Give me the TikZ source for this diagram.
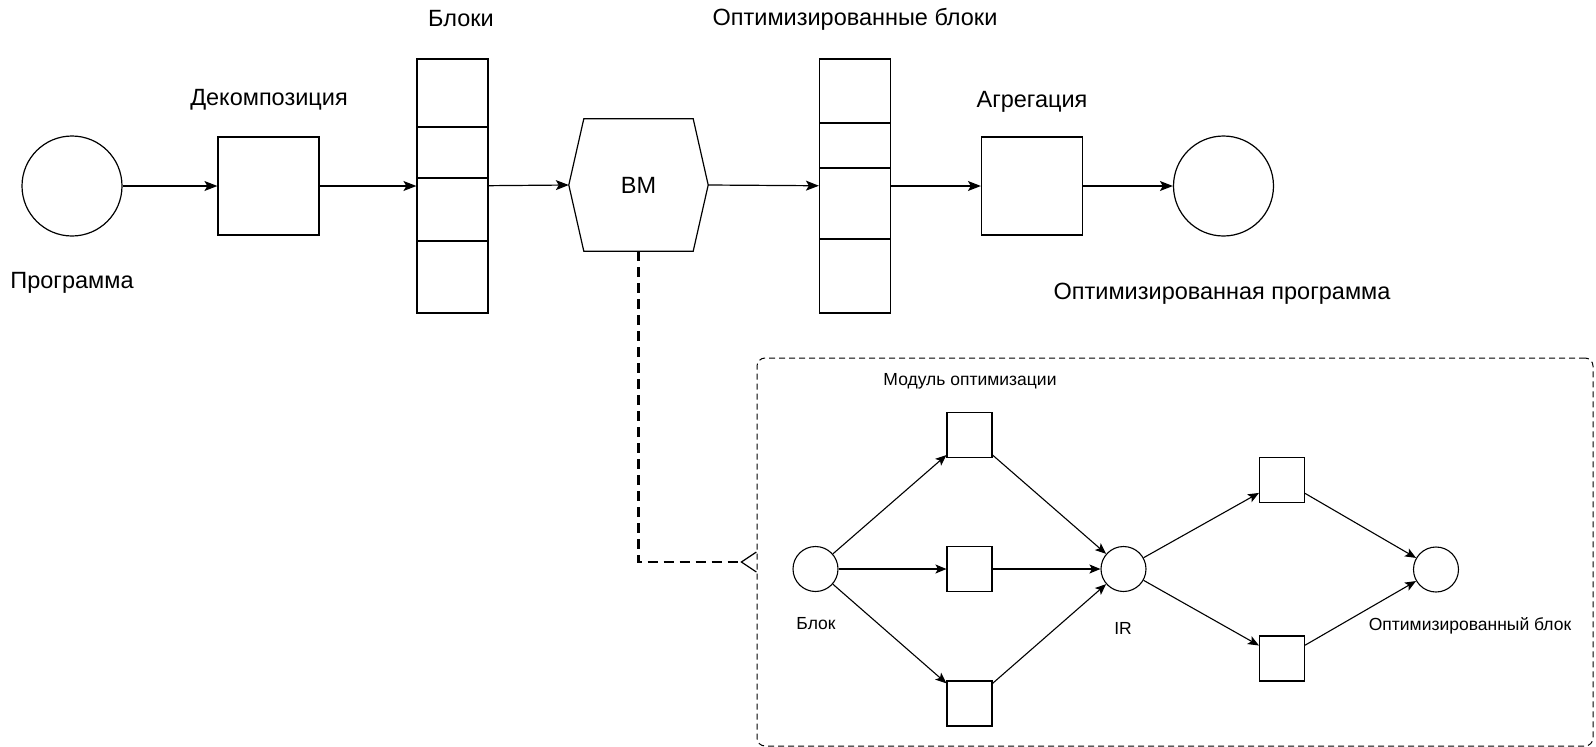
\documentclass[tikz,border=0pt]{standalone}
\usepackage{fontspec}
\setmainfont{Liberation Sans}
\usetikzlibrary{arrows.meta}

\begin{document}
\begin{tikzpicture}[x=1pt, y=-1pt,
  every node/.style={inner sep=0pt},
  big/.style={font=\fontsize{23.5}{28}\selectfont},
  small/.style={font=\fontsize{17.5}{21}\selectfont},
  circ/.style={draw, circle, line width=1.2pt, minimum size=100pt},
  box/.style={draw, line width=1.2pt, minimum width=101pt, minimum height=98pt},
  stack/.style={draw, line width=1.2pt, minimum width=71pt, minimum height=254pt},
  dot/.style={draw, circle, line width=1.1pt, minimum size=45pt},
  sq/.style={draw, line width=1.1pt, minimum size=45pt},
  arr/.style={line width=1.2pt, -{Stealth[length=13pt, width=10pt, inset=3pt]}},
  sarr/.style={line width=1.1pt, -{Stealth[length=11pt, width=9pt, inset=2.5pt]}}
]
  \useasboundingbox (0,0) rectangle (1596,747);

  % Main chain
  \node[circ] (prog) at (72,186) {};
  \node[box] (dec) at (268.5,186) {};
  \node[stack] (blocks) at (452.5,186) {};
  \node[big, minimum width=139pt, minimum height=132pt] (bm) at (638.5,185) {BM};
  \node[stack] (optblocks) at (855,186) {};
  \node[box] (agg) at (1032,186) {};
  \node[circ] (res) at (1223.5,186) {};

  % Hexagon round BM
  \draw[line width=1.2pt] (bm.west) -- ([xshift=15pt]bm.north west) -- ([xshift=-15pt]bm.north east)
    -- (bm.east) -- ([xshift=-15pt]bm.south east) -- ([xshift=15pt]bm.south west) -- cycle;

  % Dividers of the block stacks
  \foreach \y in {127,178,241} {
    \draw[line width=1.2pt] (417,\y) -- (488,\y);
  }
  \foreach \y in {123,168,239} {
    \draw[line width=1.2pt] (820,\y) -- (890,\y);
  }

  % Labels
  \node[big] (prog-lbl) at (72,283) {Программа};
  \node[big] (dec-lbl) at (269,100) {Декомпозиция};
  \node[big] (blocks-lbl) at (461,19) {Блоки};
  \node[big] (optblocks-lbl) at (855,19) {Оптимизированные блоки};
  \node[big] (agg-lbl) at (1032,102) {Агрегация};
  \node[big] (res-lbl) at (1222,294) {Оптимизированная программа};

  % Arrows of the main chain
  \draw[arr] (prog) -- (dec);
  \draw[arr] (dec) -- (blocks);
  \draw[arr] (blocks) -- (bm.west);
  \draw[arr] (bm.east) -- (optblocks);
  \draw[arr] (optblocks) -- (agg);
  \draw[arr] (agg) -- (res);

  % Optimisation module
  \node[draw, dashed, dash pattern=on 6pt off 4pt, line width=1pt, rounded corners=8pt,
    minimum width=836pt, minimum height=388pt] (module) at (1175,552) {};
  \node[small] (module-lbl) at (970,381) {Модуль оптимизации};
  \coordinate (modin) at (757,562);
  \draw[line width=2.6pt, dash pattern=on 10pt off 6pt,
    -{Straight Barb[reversed, length=15pt, width=20pt, line width=1.2pt]}] (bm.south) |- (modin);

  \node[dot] (blk) at (815.5,569) {};
  \foreach \n/\y in {m1/435, m2/569, m3/703.5} {
    \node[sq] (\n) at (969.5,\y) {};
  }
  \node[dot] (ir) at (1123.5,569) {};
  \foreach \n/\y in {p1/480, p2/658.5} {
    \node[sq] (\n) at (1282,\y) {};
  }
  \node[dot] (out) at (1436,569.5) {};

  \node[small] (blk-lbl) at (816,624) {Блок};
  \node[small] (ir-lbl) at (1123,628) {IR};
  \node[small] (out-lbl) at (1470,626) {Оптимизированный блок};

  % Arrows inside the module
  \foreach \n in {m1,m2,m3} {
    \draw[sarr] (blk) -- (\n);
    \draw[sarr] (\n) -- (ir);
  }
  \foreach \n in {p1,p2} {
    \draw[sarr] (ir) -- (\n);
    \draw[sarr] (\n) -- (out);
  }
\end{tikzpicture}
\end{document}
